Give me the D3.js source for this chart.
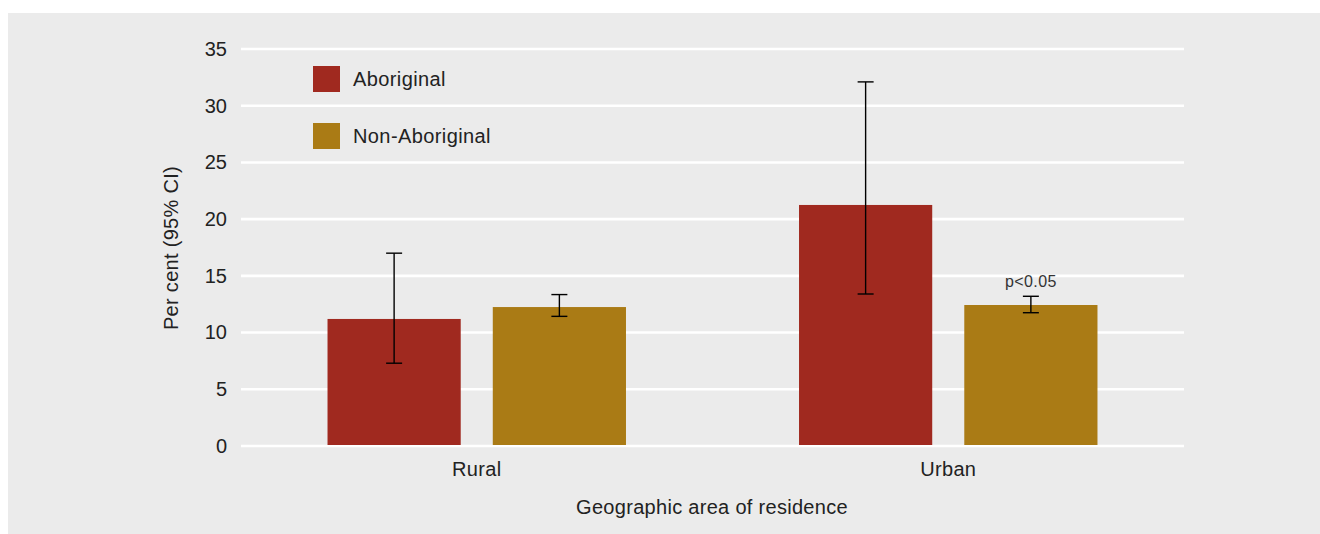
<!DOCTYPE html>
<html><head><meta charset="utf-8">
<script src="https://cdn.jsdelivr.net/npm/d3@7"></script>
<style>
html,body{margin:0;padding:0;background:#fff;}
text{font-family:"Liberation Sans",Arial,sans-serif;}
</style></head>
<body><svg id="chart" width="1320" height="534"></svg>
<script>
const categories = ["Rural", "Urban"];
const seriesNames = ["Aboriginal", "Non-Aboriginal"];
const aboriginalValues = [11.2, 21.25];
const aboriginalLower = [7.3, 13.4];
const aboriginalUpper = [17.0, 32.1];
const nonAboriginalValues = [12.25, 12.43];
const nonAboriginalLower = [11.43, 11.75];
const nonAboriginalUpper = [13.35, 13.2];
const annotations = [null, "p<0.05"];
const yTicks = [0, 5, 10, 15, 20, 25, 30, 35];
const colors = ["#a0291f", "#aa7b15"];

const svg = d3.select("#chart");
svg.append("rect").attr("x", 8).attr("y", 13).attr("width", 1312).attr("height", 521).attr("fill", "#ebebeb");

const y = d3.scaleLinear().domain([0, 35]).range([446, 49]);
const x0 = d3.scaleBand().domain(categories).range([241, 1184]).paddingInner(0.367).paddingOuter(0.1835);
const x1 = d3.scaleBand().domain(seriesNames).range([0, x0.bandwidth()]).paddingInner(0.194).paddingOuter(0);

// gridlines
svg.append("g").selectAll("line").data(yTicks).join("line")
  .attr("x1", 241).attr("x2", 1184)
  .attr("y1", d => y(d)).attr("y2", d => y(d))
  .attr("stroke", "#fff").attr("stroke-width", 2.6);

// y axis labels
const yAxis = d3.axisLeft(y).tickValues(yTicks).tickSize(0).tickPadding(0);
const gy = svg.append("g").attr("transform", "translate(227,0)").call(yAxis);
gy.select(".domain").remove();
gy.selectAll("text").attr("font-size", 20).attr("fill", "#222").attr("font-family", "Liberation Sans, Arial, sans-serif");

// x axis labels
const xAxis = d3.axisBottom(x0).tickSize(0).tickPadding(0);
const gx = svg.append("g").attr("transform", "translate(0,462)").call(xAxis);
gx.select(".domain").remove();
gx.selectAll("text").attr("font-size", 20).attr("fill", "#222").attr("letter-spacing", 0.3).attr("font-family", "Liberation Sans, Arial, sans-serif");

const data = categories.map((c, i) => ({
  cat: c,
  items: [
    {s: seriesNames[0], v: aboriginalValues[i], lo: aboriginalLower[i], hi: aboriginalUpper[i], note: null},
    {s: seriesNames[1], v: nonAboriginalValues[i], lo: nonAboriginalLower[i], hi: nonAboriginalUpper[i], note: annotations[i]}
  ]
}));

const groups = svg.append("g").selectAll("g").data(data).join("g")
  .attr("transform", d => `translate(${x0(d.cat)},0)`);

groups.selectAll("rect").data(d => d.items).join("rect")
  .attr("x", d => x1(d.s)).attr("width", x1.bandwidth())
  .attr("y", d => y(d.v)).attr("height", d => y(0) - y(d.v) - 1)
  .attr("fill", (d, i) => colors[i]);

const eb = groups.selectAll("g.eb").data(d => d.items).join("g").attr("class", "eb")
  .attr("transform", d => `translate(${x1(d.s) + x1.bandwidth() / 2},0)`);
eb.append("line").attr("x1", 0).attr("x2", 0).attr("y1", d => y(d.lo)).attr("y2", d => y(d.hi))
  .attr("stroke", "#000").attr("stroke-width", 1.4);
eb.append("line").attr("x1", -8).attr("x2", 8).attr("y1", d => y(d.lo)).attr("y2", d => y(d.lo))
  .attr("stroke", "#000").attr("stroke-width", 1.4);
eb.append("line").attr("x1", -8).attr("x2", 8).attr("y1", d => y(d.hi)).attr("y2", d => y(d.hi))
  .attr("stroke", "#000").attr("stroke-width", 1.4);
eb.filter(d => d.note).append("text")
  .attr("x", 0).attr("y", d => y(d.hi) - 9)
  .attr("text-anchor", "middle").attr("font-size", 16).attr("letter-spacing", 0.4).attr("fill", "#333")
  .text(d => d.note);

// legend
const legend = svg.append("g").selectAll("g").data(seriesNames).join("g")
  .attr("transform", (d, i) => `translate(313,${66 + i * 57})`);
legend.append("rect").attr("width", 27).attr("height", 26).attr("fill", (d, i) => colors[i]);
legend.append("text").attr("x", 40).attr("y", 13).attr("dy", "0.35em")
  .attr("font-size", 20).attr("letter-spacing", 0.4).attr("fill", "#222").text(d => d);

// axis titles
svg.append("text").attr("x", 712).attr("y", 514).attr("text-anchor", "middle")
  .attr("font-size", 20).attr("letter-spacing", 0.3).attr("fill", "#222").text("Geographic area of residence");
svg.append("text").attr("transform", "translate(178,248) rotate(-90)").attr("text-anchor", "middle")
  .attr("font-size", 20).attr("letter-spacing", 0.3).attr("fill", "#222").text("Per cent (95% CI)");
</script>
</body></html>
